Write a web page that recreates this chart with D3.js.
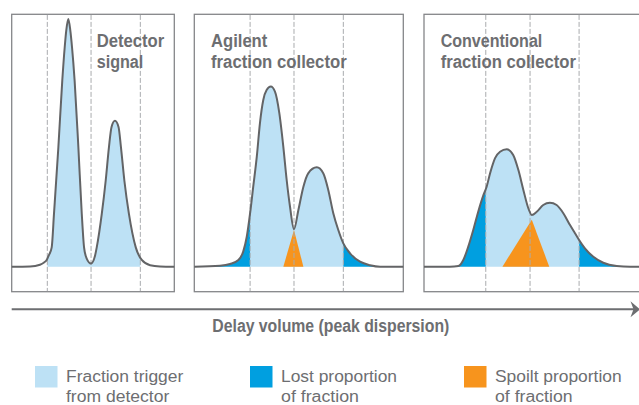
<!DOCTYPE html>
<html><head><meta charset="utf-8">
<script src="https://cdn.jsdelivr.net/npm/d3@7"></script>
<style>body{margin:0;background:#fff}svg{display:block}</style>
</head><body>
<svg id="c" width="639" height="405"></svg>
<script>
// ---------------- data ----------------
const panelNames = ["Detector signal", "Agilent fraction collector", "Conventional fraction collector"];
const titleLines = [["Detector", "signal"], ["Agilent", "fraction collector"], ["Conventional", "fraction collector"]];

// Panel 1: detector signal (volume 0-100, signal with tallest peak = 100)
const volume1 = [0, 11.3, 17.4, 19.9, 21.5, 22.9, 24.6, 26.0, 28.7, 31.1, 32.6, 33.6, 34.8, 36.0, 37.1, 38.7, 41.0, 43.1, 44.5, 46.0, 48.8, 51.2, 52.3, 55.4, 57.8, 59.8, 61.4, 63.5, 65.7, 67.2, 69.3, 72.1, 76.3, 80.0, 85.1, 91.2, 100];
const signal1 = [0, 0.1, 0.8, 1.7, 2.7, 4.7, 7.8, 21.3, 48.2, 75.1, 88.6, 95.6, 100, 95.6, 88.6, 75.1, 48.2, 21.3, 7.8, 3.5, 1.3, 4.3, 7.8, 21.3, 34.7, 48.2, 56.4, 58.9, 56.4, 48.2, 34.7, 21.3, 7.8, 2.7, 0.6, 0.1, 0];

// Panel 2: Agilent fraction collector
const volume2 = [0, 12.3, 17.1, 21.1, 23.4, 25.1, 26.7, 28.2, 29.9, 31.4, 33.0, 34.6, 36.6, 38.6, 40.7, 42.6, 44.2, 45.8, 47.7, 49.8, 52.2, 54.5, 58.6, 61.7, 64.1, 66.5, 68.9, 71.3, 74.5, 79.3, 84.1, 88.9, 100];
const signal2 = [0, 0.4, 1.1, 2.7, 6.1, 12.1, 21.6, 32.3, 44.4, 57.9, 67.3, 71.3, 72.7, 70.7, 61.9, 48.4, 35.0, 24.2, 15.1, 22.9, 32.3, 37.7, 40.1, 37.7, 31.0, 21.6, 14.8, 9.4, 5.4, 2.0, 0.6, 0, 0];

// Panel 3: conventional fraction collector
const volume3 = [0, 12.0, 15.9, 18.2, 20.5, 22.8, 25.1, 27.5, 29.0, 30.6, 32.9, 35.2, 38.3, 41.3, 43.7, 46.0, 48.3, 49.9, 52.2, 55.2, 58.3, 61.4, 64.5, 67.6, 69.9, 71.8, 74.5, 78.4, 83.0, 89.2, 95.4, 100];
const signal3 = [0, 0, 0.3, 2.7, 8.1, 14.8, 22.2, 28.9, 32.3, 37.7, 43.8, 46.4, 47.4, 45.1, 39.0, 31.0, 23.6, 20.9, 22.2, 24.9, 25.8, 24.9, 21.6, 16.8, 13.5, 10.8, 7.4, 4.0, 1.6, 0.3, 0, 0];

// fraction trigger marks (start, cut, end) in volume units
const triggers1 = [21.9, 48.8, 79.1];
const triggers2 = [26.7, 47.7, 71.3];
const triggers3 = [28.6, 49.1, 71.8];

// spoilt proportion triangles (left base, apex, right base)
const spoiltX2 = [42.6, 47.7, 52.2];
const spoiltY2 = [0, 14.8, 0];
const spoiltX3 = [36.3, 49.9, 58.0];
const spoiltY3 = [0, 18.9, 0];

const showLost = [false, true, true];

const legendLabels = [["Fraction trigger", "from detector"], ["Lost proportion", "of fraction"], ["Spoilt proportion", "of fraction"]];
const axisLabel = "Delay volume (peak dispersion)";

// ---------------- styles / layout ----------------
const C = {
  trigger: "#bde1f5", lost: "#009fe0", spoilt: "#f7941d",
  curve: "#636466", frame: "#858689", dash: "#a9abae", text: "#6d6e71"
};
const FONT = "'Liberation Sans Narrow','Liberation Sans',sans-serif";
const boxes = [[11.7, 174.3], [194.3, 403.3], [424, 640]];
const boxTop = 14.3, boxBottom = 291.7;
const titleX = [96.7, 211, 440.7];
// rendered widths of the condensed type (layout)
const titleW = [[67.6, 46.6], [56.3, 135.7], [101.6, 135.3]];
const legendW = [[117.3, 103.3], [116, 78], [126.6, 77.6]];
const axisLabelW = 237;

function fit(sel, w) {
  return sel.attr("textLength", w).attr("lengthAdjust", "spacingAndGlyphs");
}

const svg = d3.select("#c");
const y = d3.scaleLinear().domain([-10.1, 101.9]).range([boxBottom, boxTop]);

const panels = [
  {v: volume1, s: signal1, t: triggers1, sx: null, sy: null},
  {v: volume2, s: signal2, t: triggers2, sx: spoiltX2, sy: spoiltY2},
  {v: volume3, s: signal3, t: triggers3, sx: spoiltX3, sy: spoiltY3}
];

const defs = svg.append("defs");

panels.forEach((p, i) => {
  const x = d3.scaleLinear().domain([0, 100]).range(boxes[i]);
  const g = svg.append("g").attr("class", "panel").attr("aria-label", panelNames[i]);
  const pts = p.v.map((d, k) => [d, p.s[k]]);

  g.append("rect")
    .attr("x", x(0)).attr("y", boxTop)
    .attr("width", x(100) - x(0)).attr("height", boxBottom - boxTop)
    .attr("fill", "#fff").attr("stroke", C.frame).attr("stroke-width", 1.3);

  const area = d3.area().x(d => x(d[0])).y0(y(0)).y1(d => y(d[1])).curve(d3.curveMonotoneX);

  function clipFor(id, a, b) {
    defs.append("clipPath").attr("id", id).append("rect")
      .attr("x", x(a)).attr("y", boxTop).attr("width", x(b) - x(a)).attr("height", boxBottom - boxTop);
    return "url(#" + id + ")";
  }

  // trigger window fill
  g.append("path").datum(pts).attr("d", area).attr("fill", C.trigger)
    .attr("clip-path", clipFor("trig" + i, p.t[0], p.t[2]));

  // lost proportions
  if (showLost[i]) {
    g.append("path").datum(pts).attr("d", area).attr("fill", C.lost)
      .attr("clip-path", clipFor("lostL" + i, 0, p.t[0]));
    g.append("path").datum(pts).attr("d", area).attr("fill", C.lost)
      .attr("clip-path", clipFor("lostR" + i, p.t[2], 100));
  }

  // spoilt triangle
  if (p.sx) {
    const tri = p.sx.map((d, k) => [d, p.sy[k]]);
    g.append("path").datum(tri)
      .attr("d", d3.line().x(d => x(d[0])).y(d => y(d[1])).curve(d3.curveLinearClosed))
      .attr("fill", C.spoilt);
  }

  // trigger marks
  g.selectAll("line.trig").data(p.t).join("line").attr("class", "trig")
    .attr("x1", d => x(d)).attr("x2", d => x(d))
    .attr("y1", boxTop + 0.6).attr("y2", boxBottom - 0.6)
    .attr("stroke", C.dash).attr("stroke-width", 1).attr("stroke-dasharray", "5,2");

  // signal curve
  g.append("path").datum(pts)
    .attr("d", d3.line().x(d => x(d[0])).y(d => y(d[1])).curve(d3.curveMonotoneX))
    .attr("fill", "none").attr("stroke", C.curve).attr("stroke-width", 2).attr("stroke-linejoin", "round");

  // title
  titleLines[i].forEach((l, k) => {
    fit(g.append("text").attr("x", titleX[i]).attr("y", 47.2 + k * 20.6)
      .attr("font-family", FONT).attr("font-weight", "bold").attr("font-size", 17.6)
      .attr("fill", C.text).text(l), titleW[i][k]);
  });
});

// axis arrow
const ax = svg.append("g");
const arrowY = 309.3;
ax.append("line").attr("x1", 11.7).attr("x2", 636).attr("y1", arrowY).attr("y2", arrowY)
  .attr("stroke", C.text).attr("stroke-width", 2);
ax.append("path")
  .attr("d", d3.line()([[630.5, arrowY - 8], [640, arrowY], [630.5, arrowY + 8], [633.5, arrowY]]) + "Z")
  .attr("fill", C.text);
fit(ax.append("text").attr("x", 212.3).attr("y", 332.3)
  .attr("font-family", FONT).attr("font-weight", "bold").attr("font-size", 18).attr("fill", C.text)
  .text(axisLabel), axisLabelW);

// legend
const legX = [35, 250, 464];
const legColors = [C.trigger, C.lost, C.spoilt];
const lg = svg.append("g");
legendLabels.forEach((lab, i) => {
  lg.append("rect").attr("x", legX[i]).attr("y", 366).attr("width", 22.5).attr("height", 21.5).attr("fill", legColors[i]);
  lab.forEach((l, k) => {
    fit(lg.append("text").attr("x", legX[i] + 31).attr("y", 381.6 + k * 20.4)
      .attr("font-family", FONT).attr("font-size", 17.3).attr("fill", C.text).text(l), legendW[i][k]);
  });
});
</script>
</body></html>
